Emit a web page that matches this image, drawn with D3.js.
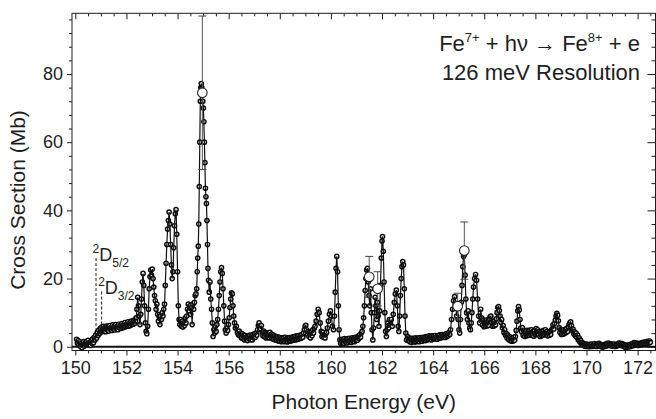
<!DOCTYPE html>
<html><head><meta charset="utf-8">
<script src="https://cdn.jsdelivr.net/npm/d3@7"></script>
<style>
html,body{margin:0;padding:0;background:#fff;}
svg{display:block;font-family:"Liberation Sans",Arial,Helvetica,sans-serif;}
</style></head><body>
<svg id="chart" width="656" height="419"></svg>
<script>
// ---------- data ----------
const energy = [
 150.05,150.08,150.11,150.14,150.17,150.20,150.23,150.26,150.29,150.32,150.35,150.38,150.41,
 150.44,150.47,150.50,150.53,150.56,150.59,150.62,150.65,150.68,150.71,150.74,150.77,
 150.80,150.83,150.86,150.89,150.92,150.95,150.98,151.01,151.04,151.07,151.10,151.13,151.16,151.19,151.22,151.25,151.28,151.31,
 151.34,151.37,151.40,151.43,151.46,151.49,151.52,151.55,151.58,151.61,151.64,151.67,151.70,151.73,151.76,151.79,151.82,151.85,
 151.88,151.91,151.94,151.97,152.00,152.03,152.06,152.09,152.12,152.15,152.18,152.21,152.24,152.27,152.30,152.33,152.36,
 152.38,152.41,152.44,152.47,152.50,152.53,152.56,152.59,152.62,152.65,152.68,152.71,152.74,152.77,152.80,152.83,152.86,152.89,152.92,152.95,
 152.98,153.01,153.04,153.07,153.10,153.13,153.16,153.19,153.22,153.25,153.28,153.31,153.34,153.37,153.40,153.43,153.46,153.49,153.52,153.55,
 153.58,153.61,153.64,153.67,153.70,153.73,153.76,153.79,153.82,153.85,153.88,153.91,153.94,153.97,154.00,154.03,154.06,154.09,154.12,154.15,
 154.18,154.21,154.24,154.27,154.30,154.33,154.36,154.39,154.42,154.45,154.48,154.51,154.54,154.57,154.60,154.63,154.66,154.69,154.72,
 154.75,154.77,154.79,154.81,154.83,154.85,154.87,154.89,154.91,154.93,154.95,154.97,154.99,155.01,155.03,155.05,155.07,155.09,155.11,155.13,
 155.15,155.17,155.19,155.21,155.24,155.27,155.30,155.33,155.36,155.39,
 155.42,155.45,155.48,155.51,155.54,155.57,155.60,155.63,155.66,155.69,155.72,155.75,155.78,155.81,155.84,155.87,155.90,155.93,155.96,155.99,
 156.02,156.05,156.08,156.11,156.14,156.17,156.20,156.23,156.26,156.30,156.34,156.38,
 156.41,156.44,156.47,156.50,156.53,156.56,156.59,156.62,156.65,156.68,156.71,156.74,156.77,156.80,156.83,156.86,156.89,156.92,156.95,156.98,
 157.01,157.04,157.07,157.10,157.13,157.16,157.19,157.22,157.25,157.28,157.31,157.34,157.37,157.40,157.43,157.46,157.49,157.52,157.55,157.58,
 157.61,157.64,157.67,157.70,157.73,157.76,157.79,157.82,157.85,157.88,157.91,157.94,157.97,158.00,158.03,158.06,158.09,158.12,158.15,158.18,
 158.21,158.24,158.27,158.30,158.33,158.36,158.39,158.42,158.45,158.48,158.51,158.54,158.57,158.60,158.63,158.66,158.69,158.72,158.75,158.78,
 158.81,158.84,158.87,158.90,158.93,158.96,158.99,159.02,159.05,159.08,159.11,159.14,159.17,159.20,159.23,159.26,159.29,159.32,159.35,159.38,
 159.42,159.46,159.50,159.54,159.58,159.62,159.65,159.68,159.71,159.74,159.77,159.80,159.83,159.86,159.90,159.94,159.98,160.02,160.06,160.10,
 160.14,160.17,160.20,160.23,160.26,160.29,160.32,160.35,
 160.38,160.41,160.44,160.47,160.50,160.53,160.56,160.59,160.62,160.65,160.68,160.71,160.74,160.77,160.80,
 160.83,160.86,160.89,160.92,160.95,160.98,161.01,161.04,161.07,161.10,161.13,161.16,161.19,161.22,
 161.25,161.28,161.31,161.34,161.37,161.40,161.43,161.46,161.49,161.52,161.55,161.58,161.61,161.64,161.67,161.70,161.73,161.76,
 161.79,161.82,161.85,161.88,161.91,161.94,161.97,162.00,162.02,162.05,162.08,162.11,162.14,162.17,162.20,162.23,162.26,162.29,162.32,162.36,
 162.40,162.44,162.48,162.52,162.56,162.60,162.63,162.66,162.69,162.72,162.75,162.78,162.81,162.84,162.87,162.90,162.93,162.96,
 163.00,163.03,163.06,163.09,163.12,163.15,163.18,163.21,163.24,163.27,163.30,163.33,163.36,163.39,163.42,163.45,163.48,163.51,163.54,163.57,
 163.60,163.63,163.66,163.69,163.72,163.75,163.78,163.81,163.84,163.87,163.90,163.93,163.96,163.99,164.02,164.05,164.08,164.11,164.14,164.17,
 164.20,164.23,164.26,164.29,164.32,164.35,164.38,164.41,164.44,164.47,164.50,164.53,164.56,164.59,164.62,
 164.65,164.68,164.72,164.76,164.80,164.84,164.88,164.92,164.95,164.98,165.01,165.04,165.07,165.10,165.13,165.16,165.19,165.22,165.25,
 165.28,165.31,165.34,165.37,165.40,165.43,165.46,165.49,165.52,165.55,165.58,165.62,165.66,165.70,165.74,165.78,165.82,165.86,
 165.90,165.93,165.96,165.99,166.02,166.05,166.08,166.11,166.14,166.17,166.20,166.23,166.26,166.29,166.32,166.35,166.38,166.41,166.44,166.47,
 166.50,166.53,166.56,166.59,166.62,166.65,166.68,166.71,166.74,166.77,166.80,166.83,166.86,166.89,166.92,166.95,166.98,167.01,167.04,167.07,
 167.10,167.13,167.16,167.19,167.22,167.25,167.28,167.31,167.34,167.37,167.40,167.43,167.46,167.49,167.52,167.55,167.58,167.61,167.64,167.67,
 167.70,167.73,167.76,167.79,167.82,167.85,167.88,167.91,167.94,167.97,168.00,168.03,168.06,168.09,168.12,168.15,168.18,168.21,168.24,168.27,
 168.30,168.33,168.36,168.39,168.42,168.45,168.48,168.51,168.54,168.57,168.60,168.63,168.66,168.69,168.72,168.75,168.78,168.81,168.84,168.87,
 168.90,168.93,168.96,168.99,169.02,169.05,169.08,169.11,169.14,169.17,169.20,169.23,169.26,169.29,169.32,169.35,169.38,169.41,169.44,169.47,
 169.50,169.53,169.56,169.59,169.62,169.65,169.68,169.71,169.74,169.77,169.80,169.83,169.86,169.89,
 169.92,169.95,169.98,170.01,170.04,170.07,170.10,170.13,170.16,170.19,170.22,170.25,170.28,170.31,170.34,170.37,170.40,170.43,170.46,170.49,
 170.52,170.55,170.58,170.61,170.64,170.67,170.70,170.73,170.76,170.79,170.82,170.85,170.88,170.91,170.94,170.97,171.00,171.03,171.06,171.09,
 171.12,171.15,171.18,171.21,171.24,171.27,171.30,171.33,171.36,171.39,171.42,171.45,171.48,171.51,171.54,171.57,171.60,171.63,171.66,171.69,
 171.72,171.75,171.78,171.81,171.84,171.87,171.90,171.93,171.96,171.99,172.02,172.05,172.08,172.11,172.14,172.17,172.20,172.23,172.26,172.29,
 172.32,172.35,172.38,172.41,172.44,172.47,172.50
];
const crossSection = [
 2.2,1.0,1.8,0.6,1.4,0.1,0.9,-0.3,0.6,1.5,0.2,1.1,0.5,
 1.6,0.7,1.9,0.8,1.3,0.4,1.7,1.0,2.3,1.2,2.8,2.0,
 3.4,2.5,4.2,3.3,4.9,3.9,5.4,4.3,5.8,4.6,6.0,4.5,5.6,4.4,6.1,4.9,5.9,4.6,
 6.2,5.1,5.7,4.8,6.4,5.2,6.0,4.9,6.5,5.3,6.1,5.0,6.6,5.5,6.3,5.4,6.8,5.6,
 6.4,5.7,7.1,5.9,6.6,6.0,7.3,6.1,6.9,6.2,7.5,6.5,7.2,6.6,7.8,6.9,7.6,
 8.5,11.0,14.5,12.0,9.0,6.5,9.5,14.0,19.0,21.5,18.0,12.0,7.0,4.5,3.8,6.0,11.0,17.0,20.5,22.5,
 21.0,22.8,20.0,17.5,15.0,13.5,11.0,12.5,9.5,7.5,8.8,6.5,9.0,8.0,10.0,9.0,11.0,12.5,18.0,24.5,
 30.0,34.5,37.0,39.5,36.0,30.0,24.0,20.0,22.0,29.0,35.5,39.0,40.2,33.0,22.0,12.0,8.0,6.5,8.0,6.0,
 7.5,5.8,7.0,6.2,8.5,7.0,9.0,11.0,12.5,10.5,12.0,9.5,11.5,6.5,12.5,11.0,13.0,15.0,15.5,
 17.0,22.0,26.0,29.5,36.0,47.0,60.0,72.0,76.0,77.2,76.0,74.0,72.0,70.0,66.0,60.0,54.0,46.5,44.0,42.0,
 37.0,30.0,23.0,19.5,16.0,19.0,14.0,11.0,7.0,3.0,
 5.0,4.0,6.0,4.5,6.5,8.0,11.0,15.0,19.0,22.0,23.2,21.5,17.0,12.0,7.5,5.0,4.0,5.5,4.8,6.5,
 8.5,11.5,14.0,15.8,15.5,12.0,9.0,7.0,5.5,6.0,4.2,3.5,
 4.6,3.2,4.0,2.6,3.8,2.4,3.4,2.0,3.3,2.2,3.0,1.8,3.1,2.3,3.4,2.1,3.2,2.0,3.6,2.6,
 3.8,2.8,4.0,3.4,5.0,6.2,7.0,6.0,5.2,6.2,4.2,3.2,4.6,3.0,4.2,2.6,4.0,2.8,3.8,2.6,
 4.2,3.0,3.7,2.4,3.5,2.2,3.2,2.0,3.0,1.9,2.9,1.7,2.8,1.6,2.6,1.5,2.6,1.6,2.7,1.5,
 2.8,1.6,2.5,1.4,2.6,1.6,2.7,1.7,2.6,1.8,2.9,1.9,3.0,2.0,3.1,2.1,3.2,2.2,3.3,2.4,
 3.4,2.5,3.6,2.8,4.0,5.0,6.0,6.3,5.0,3.6,4.4,3.0,4.2,2.6,4.5,3.2,5.0,4.0,5.4,6.0,
 7.5,9.5,11.0,10.0,7.0,4.5,3.0,4.2,2.8,3.6,2.6,3.8,4.2,5.5,7.5,9.5,10.5,9.0,6.0,5.0,
 9.0,16.0,23.0,26.5,22.0,12.0,5.0,2.0,
 1.0,2.2,1.2,2.0,1.0,2.4,1.4,2.1,1.1,2.3,1.3,2.5,1.5,2.2,1.3,
 2.6,1.6,2.4,1.5,2.8,1.8,2.6,1.9,3.1,2.4,3.5,2.8,4.0,4.5,
 6.0,8.5,12.0,16.5,20.0,22.5,23.0,19.0,15.0,12.0,17.0,10.0,5.0,2.0,5.5,10.0,14.5,12.0,
 8.0,13.0,9.0,6.0,10.5,18.0,26.0,31.0,32.3,28.0,19.0,10.0,4.5,3.0,5.0,7.0,5.5,8.0,6.5,8.0,
 6.0,9.5,13.0,15.5,16.6,12.0,6.0,4.5,9.0,15.0,20.0,23.5,25.0,24.0,17.0,9.0,4.0,2.0,
 3.0,1.8,2.6,1.5,2.4,1.3,2.5,1.6,2.3,1.4,2.6,1.5,2.4,1.7,2.6,1.5,2.7,1.8,2.5,1.6,
 2.8,1.9,2.7,1.8,3.0,2.0,2.9,2.1,3.2,2.2,3.0,2.0,3.2,2.3,3.1,2.4,3.3,2.3,3.0,2.2,
 3.3,2.5,3.5,2.6,3.4,2.7,3.6,2.8,3.5,2.7,3.8,2.9,3.6,3.2,4.2,
 3.6,5.0,8.0,11.0,13.5,14.7,12.5,9.0,12.0,8.0,5.0,4.0,8.0,13.0,18.0,23.5,26.5,27.0,21.0,
 14.0,10.0,8.0,10.5,7.0,5.5,5.0,7.0,10.0,14.0,17.5,20.0,21.2,19.5,14.0,9.0,7.0,11.0,
 8.5,6.4,7.8,5.9,7.4,6.0,7.8,6.1,7.5,6.3,8.2,8.8,9.0,7.2,6.0,7.4,6.1,7.6,6.4,8.2,
 10.0,11.5,11.8,10.6,9.0,7.2,8.0,5.6,6.2,4.2,5.0,3.4,3.9,2.6,3.4,2.1,3.0,1.8,2.8,1.6,
 2.6,1.7,2.8,1.9,3.0,4.8,7.5,10.5,11.8,10.8,8.0,5.5,4.4,5.6,3.4,4.6,3.0,4.4,3.2,4.8,
 3.3,4.6,3.4,4.9,3.6,5.0,3.4,4.6,3.1,4.8,3.5,5.3,3.7,5.0,3.6,4.5,3.0,4.2,3.2,4.6,
 3.4,4.8,3.6,5.0,3.8,4.5,3.2,4.1,3.3,4.5,3.6,4.8,5.2,6.4,5.2,6.8,7.8,9.0,9.8,9.2,
 7.6,5.6,4.2,5.0,3.6,4.8,3.7,5.0,3.9,5.1,4.2,5.4,4.5,5.8,6.5,7.0,7.3,6.2,4.8,5.2,
 3.8,4.4,3.2,4.0,2.8,3.4,2.0,2.6,1.4,1.9,0.9,1.2,0.5,0.9,
 0.2,0.7,0.1,0.8,0.3,0.6,0.0,0.7,0.2,0.8,0.1,0.6,0.2,0.9,0.3,0.7,0.1,0.8,0.4,1.0,
 0.3,0.7,0.0,0.6,-0.1,0.5,0.1,0.7,0.2,0.9,0.4,1.1,0.5,0.9,0.3,0.8,0.2,0.7,0.3,0.8,
 0.1,0.6,0.2,0.8,0.4,1.1,0.6,1.0,0.4,0.9,0.3,0.7,0.0,0.5,-0.2,0.4,-0.1,0.5,0.0,0.6,
 0.1,0.8,0.3,0.9,0.4,1.2,0.6,1.1,0.5,1.0,0.4,0.9,0.5,1.0,0.6,1.2,0.7,1.3,0.8,1.4,
 0.9,1.5,1.0,1.6,1.1,1.7,1.3
];
// large open circles with error bars
const errEnergy = [154.97, 161.50, 161.83, 164.96, 165.22];
const errValue  = [74.5, 20.5, 17.0, 11.9, 28.2];
const errDelta  = [22.5, 6.0, 5.0, 3.8, 8.4];
// ionization thresholds (dashed markers)
const thresholdEnergy = [150.81, 151.03];
const thresholdTop    = [26.0, 16.2];
const thresholdBottom = [3.0, 5.8];
const thresholdJ      = ["5/2", "3/2"];
// axes
const xTicks = [150,152,154,156,158,160,162,164,166,168,170,172];
const yTicks = [0,20,40,60,80];

// ---------- layout ----------
const plot = {left:72, right:655.5, top:13.3, bottom:350.5};
const x = d3.scaleLinear().domain([149.87, 172.70]).range([plot.left, plot.right]);
const y = d3.scaleLinear().domain([-1.1, 97.8]).range([plot.bottom, plot.top]);
const ink = "#1e1e1e";

const svg = d3.select("#chart");
svg.append("rect").attr("width",656).attr("height",419).attr("fill","#fff");

const xMinor = d3.range(150, 172.75, 0.5).filter(v => !xTicks.includes(v));
const yMinor = d3.range(0, 97.8, 4).filter(v => !yTicks.includes(v));

function styleAxis(g){
  g.select(".domain").remove();
  g.selectAll(".tick line").attr("stroke", ink).attr("stroke-width", 1);
  g.selectAll(".tick text").attr("fill", ink).attr("font-size", 18)
   .attr("font-family", '"Liberation Sans", Arial, sans-serif');
}
// bottom
svg.append("g").attr("transform",`translate(0,${plot.bottom})`)
  .call(d3.axisBottom(x).tickValues(xTicks).tickSize(5).tickPadding(6).tickFormat(d3.format("d"))).call(styleAxis);
svg.append("g").attr("transform",`translate(0,${plot.bottom})`)
  .call(d3.axisBottom(x).tickValues(xMinor).tickSize(3).tickFormat("")).call(styleAxis);
// top (inward)
svg.append("g").attr("transform",`translate(0,${plot.top})`)
  .call(d3.axisTop(x).tickValues(xTicks).tickSize(-6).tickFormat("")).call(styleAxis);
svg.append("g").attr("transform",`translate(0,${plot.top})`)
  .call(d3.axisTop(x).tickValues(xMinor).tickSize(-3).tickFormat("")).call(styleAxis);
// left
svg.append("g").attr("transform",`translate(${plot.left},0)`)
  .call(d3.axisLeft(y).tickValues(yTicks).tickSize(5).tickPadding(4).tickFormat(d3.format("d"))).call(styleAxis);
svg.append("g").attr("transform",`translate(${plot.left},0)`)
  .call(d3.axisLeft(y).tickValues(yMinor).tickSize(3).tickFormat("")).call(styleAxis);
// right (inward)
svg.append("g").attr("transform",`translate(${plot.right},0)`)
  .call(d3.axisRight(y).tickValues(yTicks).tickSize(-8).tickFormat("")).call(styleAxis);
svg.append("g").attr("transform",`translate(${plot.right},0)`)
  .call(d3.axisRight(y).tickValues(yMinor).tickSize(-4).tickFormat("")).call(styleAxis);

// frame
svg.append("rect").attr("x",plot.left).attr("y",plot.top)
  .attr("width",plot.right-plot.left).attr("height",plot.bottom-plot.top)
  .attr("fill","none").attr("stroke",ink).attr("stroke-width",1);
// zero line
svg.append("line").attr("x1",plot.left).attr("x2",plot.right)
  .attr("y1",y(0)).attr("y2",y(0)).attr("stroke","#111").attr("stroke-width",1.8);

// threshold markers
thresholdEnergy.forEach((e,i)=>{
  svg.append("line").attr("x1",x(e)).attr("x2",x(e))
    .attr("y1",y(thresholdTop[i])).attr("y2",y(thresholdBottom[i]))
    .attr("stroke",ink).attr("stroke-width",1).attr("stroke-dasharray","3,2");
  const t = svg.append("text").attr("x",x(e)-3.5).attr("y",y(thresholdTop[i])+2.5)
    .attr("fill",ink).attr("font-size",18);
  t.append("tspan").attr("font-size",12).attr("dy",-8).text("2");
  t.append("tspan").attr("dy",8).text("D");
  t.append("tspan").attr("font-size",12).attr("dy",6).text(thresholdJ[i]);
});

// data: open circles, connecting line drawn over them
const pts = energy.map((e,i)=>({e, v: crossSection[i]}));
svg.append("g").selectAll("circle").data(pts).join("circle")
  .attr("cx",d=>x(d.e)).attr("cy",d=>y(d.v)).attr("r",2.1)
  .attr("fill","#fff").attr("stroke","#0a0a0a").attr("stroke-width",1.45);
svg.append("path").datum(pts)
  .attr("d", d3.line().x(d=>x(d.e)).y(d=>y(d.v)))
  .attr("fill","none").attr("stroke","#111").attr("stroke-width",1.2);

// error bars + big circles
const eg = svg.append("g");
errEnergy.forEach((e,i)=>{
  const cx = x(e), lo = y(errValue[i]-errDelta[i]), hi = y(errValue[i]+errDelta[i]);
  eg.append("line").attr("x1",cx).attr("x2",cx).attr("y1",lo).attr("y2",hi)
    .attr("stroke","#555").attr("stroke-width",1);
  [lo,hi].forEach(yy=> eg.append("line").attr("x1",cx-4).attr("x2",cx+4)
    .attr("y1",yy).attr("y2",yy).attr("stroke","#444").attr("stroke-width",1));
  eg.append("circle").attr("cx",cx).attr("cy",y(errValue[i])).attr("r",4.8)
    .attr("fill","#fff").attr("stroke","#222").attr("stroke-width",1.1);
});

// axis titles
svg.append("text").attr("x",(plot.left+plot.right)/2).attr("y",409)
  .attr("text-anchor","middle").attr("font-size",21).attr("fill",ink)
  .text("Photon Energy (eV)");
svg.append("text").attr("transform","translate(25,200) rotate(-90)")
  .attr("text-anchor","middle").attr("font-size",21).attr("fill",ink)
  .text("Cross Section (Mb)");

// annotation
const a1 = svg.append("text").attr("x",640).attr("y",51).attr("text-anchor","end")
  .attr("font-size",22).attr("fill",ink);
a1.append("tspan").text("Fe");
a1.append("tspan").attr("font-size",13).attr("dy",-9).text("7+");
a1.append("tspan").attr("dy",9).text(" + h\u03bd \u2192 Fe");
a1.append("tspan").attr("font-size",13).attr("dy",-9).text("8+");
a1.append("tspan").attr("dy",9).text(" + e");
svg.append("text").attr("x",640).attr("y",80).attr("text-anchor","end")
  .attr("font-size",22).attr("fill",ink).text("126 meV Resolution");
</script>
</body></html>
